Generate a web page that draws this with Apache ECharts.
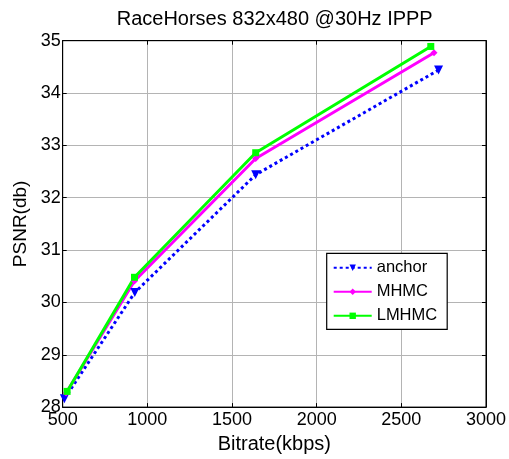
<!DOCTYPE html>
<html>
<head>
<meta charset="utf-8">
<script src="https://cdn.jsdelivr.net/npm/echarts@6/dist/echarts.min.js"></script>
<style>html,body{margin:0;padding:0;background:#fff}#c{width:509px;height:459px}</style>
</head>
<body>
<div id="c"></div>
<script>
var titleText = 'RaceHorses 832x480 @30Hz IPPP';
var xName = 'Bitrate(kbps)';
var yName = 'PSNR(db)';
var seriesNames = ['anchor', 'MHMC', 'LMHMC'];
var anchorX = [510, 926, 1640, 2720];
var anchorY = [28.16, 30.19, 32.44, 34.44];
var mhmcX = [520, 924, 1640, 2693];
var mhmcY = [28.27, 30.41, 32.75, 34.77];
var lmhmcX = [526, 924, 1640, 2674];
var lmhmcY = [28.30, 30.48, 32.86, 34.89];
var xTicks = [500, 1000, 1500, 2000, 2500, 3000];
var yTicks = [28, 29, 30, 31, 32, 33, 34, 35];

function pairs(xs, ys){ return xs.map(function(x,i){ return [x, ys[i]]; }); }

var FONT = 'Liberation Sans, Arial, sans-serif';
var chart = echarts.init(document.getElementById('c'), null, {renderer:'canvas'});
var gridL = 62.7, gridR = 22.3, gridT = 40.7, gridB = 42.3;
chart.setOption({
  animation: false,
  backgroundColor: '#fff',
  title: {
    text: titleText, left: (gridL + 509 - gridR)/2, top: 9, textAlign: 'center', padding: 0,
    textStyle: {fontFamily: FONT, fontSize: 20, fontWeight: 'normal', color: '#000'}
  },
  grid: {left: gridL, right: gridR, top: gridT, bottom: gridB, show: true, borderColor: '#000', borderWidth: 1, backgroundColor: '#fff'},
  legend: {
    orient: 'vertical', left: 326.7, top: 253.3,
    padding: [6, 10, 5, 6], itemGap: 7, itemWidth: 38, itemHeight: 8,
    backgroundColor: '#fff', borderColor: '#000', borderWidth: 1.2, borderRadius: 0,
    data: seriesNames,
    textStyle: {fontFamily: FONT, fontSize: 16.5, color: '#000', lineHeight: 16}
  },
  xAxis: [{
    type: 'value', min: xTicks[0], max: xTicks[xTicks.length-1], interval: 500,
    name: xName, nameLocation: 'middle', nameGap: 23,
    nameTextStyle: {fontFamily: FONT, fontSize: 20, color: '#000'},
    axisLine: {show: true, lineStyle: {color: '#000', width: 1}},
    axisTick: {show: true, inside: true, length: 4, lineStyle: {color: '#000'}},
    axisLabel: {fontFamily: FONT, fontSize: 18, color: '#000', margin: 4, formatter: function(v){ return String(v); }},
    splitLine: {show: true, lineStyle: {color: '#b4b4b4', width: 1}}
  }, {
    type: 'value', position: 'top', min: xTicks[0], max: xTicks[xTicks.length-1], interval: 500,
    axisLine: {show: true, lineStyle: {color: '#000'}},
    axisTick: {show: true, inside: true, length: 4, lineStyle: {color: '#000'}},
    axisLabel: {show: false}, splitLine: {show: false}
  }],
  yAxis: [{
    type: 'value', min: yTicks[0], max: yTicks[yTicks.length-1], interval: 1,
    name: yName, nameLocation: 'middle', nameGap: 32,
    nameTextStyle: {fontFamily: FONT, fontSize: 19, color: '#000'},
    axisLine: {show: true, lineStyle: {color: '#000', width: 1}},
    axisTick: {show: true, inside: true, length: 4, lineStyle: {color: '#000'}},
    axisLabel: {fontFamily: FONT, fontSize: 18, color: '#000', margin: 2},
    splitLine: {show: true, lineStyle: {color: '#b4b4b4', width: 1}}
  }, {
    type: 'value', position: 'right', min: yTicks[0], max: yTicks[yTicks.length-1], interval: 1,
    axisLine: {show: true, lineStyle: {color: '#000'}},
    axisTick: {show: true, inside: true, length: 4, lineStyle: {color: '#000'}},
    axisLabel: {show: false}, splitLine: {show: false}
  }],
  series: [{
    name: seriesNames[0], type: 'line', data: pairs(anchorX, anchorY),
    symbol: 'triangle', symbolRotate: 180, symbolSize: 9, showAllSymbol: true,
    itemStyle: {color: '#0000ff'},
    lineStyle: {color: '#0000ff', width: 3, type: [3, 3]}
  }, {
    name: seriesNames[1], type: 'line', data: pairs(mhmcX, mhmcY),
    symbol: 'diamond', symbolSize: 7,
    itemStyle: {color: '#ff00ff'},
    lineStyle: {color: '#ff00ff', width: 3}
  }, {
    name: seriesNames[2], type: 'line', data: pairs(lmhmcX, lmhmcY),
    symbol: 'rect', symbolSize: 7,
    itemStyle: {color: '#00ff00'},
    lineStyle: {color: '#00ff00', width: 3}
  }]
});
</script>
</body>
</html>
